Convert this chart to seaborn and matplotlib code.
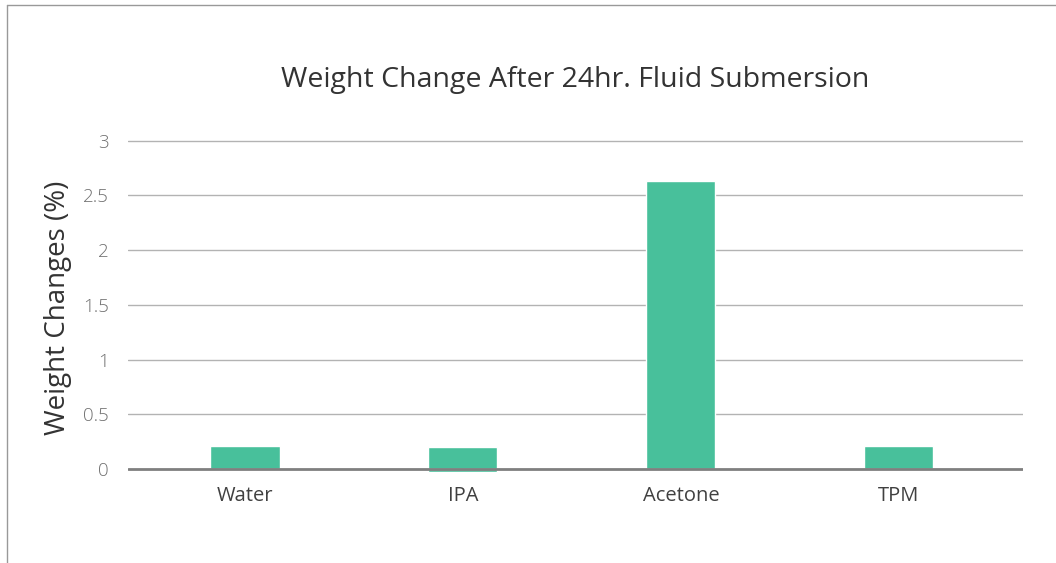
import matplotlib
matplotlib.use("Agg")
import matplotlib.pyplot as plt
from matplotlib.lines import Line2D
import pandas as pd
import seaborn as sns

fluids = ["Water", "IPA", "Acetone", "TPM"]
weight_change = [0.21, 0.20, 2.63, 0.21]
below_zero = [0.0, -0.025, 0.0, 0.0]  # IPA bar dips slightly under the axis
y_ticks = [0, 0.5, 1, 1.5, 2, 2.5, 3]
y_tick_labels = ["0", "0.5", "1", "1.5", "2", "2.5", "3"]

bar_color = "#48C09B"

sns.set_theme(style="white")
plt.rcParams["font.family"] = ["Open Sans", "DejaVu Sans"]

df = pd.DataFrame({"fluid": fluids, "change": weight_change, "neg": below_zero})

fig = plt.figure(figsize=(10.56, 5.63), dpi=100)
ax = fig.add_axes([0.1212, 0.157, 0.8476, 0.5943])

# gridlines behind bars
for t in y_ticks[1:]:
    ax.axhline(t, color="#b3b3b3", linewidth=1, zorder=0)

sns.barplot(data=df, x="fluid", y="change", color=bar_color, width=0.317,
            saturation=1, ax=ax, zorder=2)
sns.barplot(data=df, x="fluid", y="neg", color=bar_color, width=0.317,
            saturation=1, ax=ax, zorder=2)

ax.axhline(0, color="#7f7f7f", linewidth=2, zorder=3)

ax.set_ylim(-0.05, 3.005)
ax.set_xlim(-0.537, 3.57)
ax.set_yticks(y_ticks)
ax.set_yticklabels(y_tick_labels, fontsize=13.5, color="#707070", fontweight="light")
ax.set_xticks(range(len(fluids)))
ax.set_xticklabels(fluids, fontsize=14.5, color="#404040")
ax.tick_params(axis="both", length=0)
ax.tick_params(axis="y", pad=14)
ax.tick_params(axis="x", pad=8)
for s in ax.spines.values():
    s.set_visible(False)

ax.set_xlabel("")
ax.set_ylabel("Weight Changes (%)", fontsize=20, color="#333333", labelpad=8)
ax.set_title("Weight Change After 24hr. Fluid Submersion", fontsize=20.5,
             color="#333333", pad=38)

# thin frame around the chart area
fig.add_artist(Line2D([0.0066, 1.0], [0.991, 0.991], color="#999999", linewidth=1))
fig.add_artist(Line2D([0.0066, 0.0066], [0.0, 0.991], color="#999999", linewidth=1))

fig.savefig("out.png", dpi=100)
